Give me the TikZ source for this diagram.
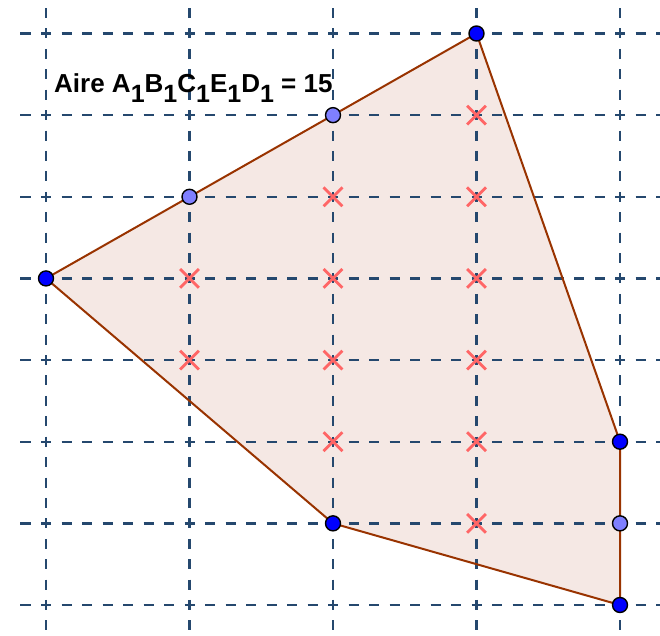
\documentclass[tikz,border=0pt]{standalone}
\usepackage{fontspec}
\setmainfont{Liberation Sans}
\definecolor{gridc}{RGB}{37,72,110}
\definecolor{edgec}{RGB}{153,51,0}
\definecolor{fillc}{RGB}{245,232,228}
\definecolor{ptblue}{RGB}{0,0,255}
\definecolor{ptlight}{RGB}{127,127,255}
\definecolor{crossc}{RGB}{255,102,102}
\newcommand\lowsub[1]{\raisebox{-10pt}{\fontsize{25}{28}\selectfont #1}}
\tikzset{
  gridline/.style={draw=gridc,line width=2.3pt,dash pattern=on 10pt off 10.5pt},
  vgridline/.style={draw=gridc,line width=2.3pt,dash pattern=on 10pt off 10.41pt},
  edge/.style={draw=edgec,line width=2pt},
  bpt/.style={circle,draw=black,line width=1.4pt,fill=ptblue,minimum size=15pt,inner sep=0pt},
  lpt/.style={circle,draw=black,line width=1.4pt,fill=ptlight,minimum size=15pt,inner sep=0pt},
  crossmark/.style={draw=crossc,line width=2.8pt,minimum size=16pt,inner sep=0pt,cross out},
}
\usetikzlibrary{shapes.misc}
\begin{document}
\begin{tikzpicture}[x=1pt,y=-1pt]
\useasboundingbox (0,0) rectangle (660,635);
\clip (0,0) rectangle (660,635);
\fill[white] (0,0) rectangle (660,635);
\begin{scope}[shift={(46,33.5)},x=143.5pt,y=-81.64pt]
  \coordinate (A) at (0,3);
  \coordinate (B) at (3,0);
  \coordinate (C) at (4,5);
  \coordinate (E) at (4,7);
  \coordinate (D) at (2,6);
  \fill[fillc] (A) -- (B) -- (C) -- (E) -- (D) -- cycle;
  \foreach \j in {0,...,7}
    \draw[gridline] (-0.1777,\j) -- (4.3,\j);
  \foreach \i in {0,...,4}
    \draw[vgridline] (\i,-0.5613) -- (\i,7.5);
  \draw[edge,line join=round] (A) -- (B) -- (C) -- (E) -- (D) -- cycle;
  \foreach \p [count=\k] in {{3,1},{2,2},{3,2},{1,3},{2,3},{3,3},{1,4},{2,4},{3,4},{2,5},{3,5},{3,6}}
    \node[crossmark] (x\k) at (\p) {};
  \node[bpt] (pA) at (A) {};
  \node[bpt] (pB) at (B) {};
  \node[bpt] (pC) at (C) {};
  \node[bpt] (pE) at (E) {};
  \node[bpt] (pD) at (D) {};
  \node[lpt] (q1) at (1,2) {};
  \node[lpt] (q2) at (2,1) {};
  \node[lpt] (q3) at (4,6) {};
\end{scope}
\node[anchor=base west,inner sep=0pt] (lbl) at (54,92.3)
  {\fontsize{26}{30}\selectfont\bfseries Aire A\lowsub{1}B\lowsub{1}C\lowsub{1}E\lowsub{1}D\lowsub{1} = 15};
\end{tikzpicture}
\end{document}
